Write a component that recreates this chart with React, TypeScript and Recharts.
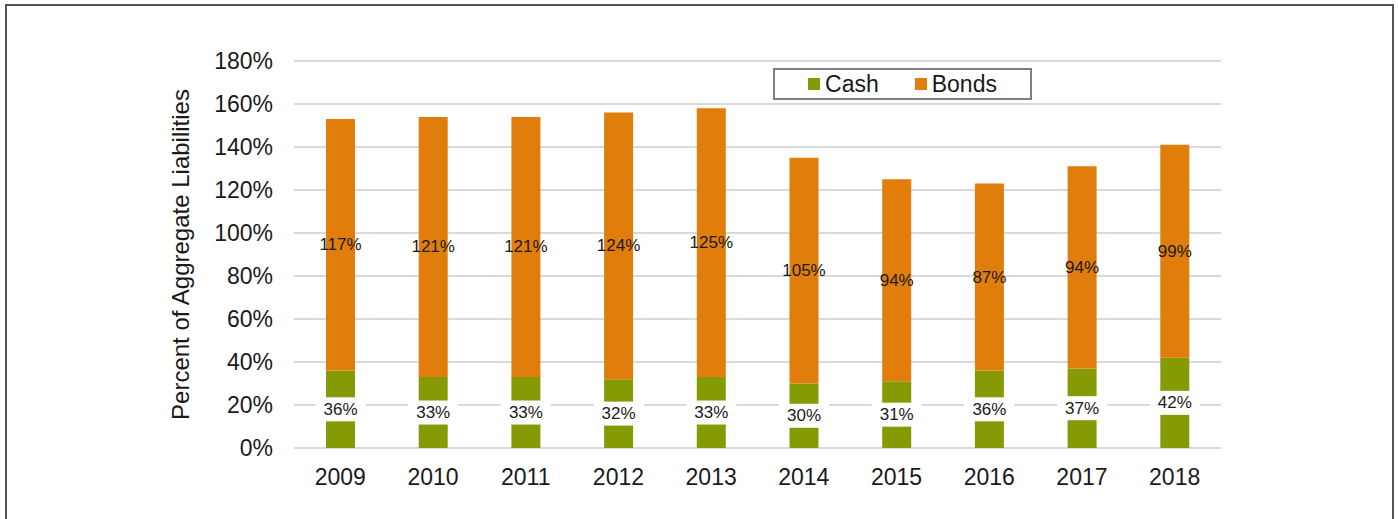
import React from 'react';
import { BarChart, Bar, XAxis, YAxis, CartesianGrid, Legend, LabelList } from 'recharts';

const years = ['2009', '2010', '2011', '2012', '2013', '2014', '2015', '2016', '2017', '2018'];
const cash = [36, 33, 33, 32, 33, 30, 31, 36, 37, 42];
const bonds = [117, 121, 121, 124, 125, 105, 94, 87, 94, 99];
const yTicks = [0, 20, 40, 60, 80, 100, 120, 140, 160, 180];

const CASH_COLOR = '#869a06';
const BONDS_COLOR = '#e07d0b';
const FONT = 'Arial, "Liberation Sans", Helvetica, sans-serif';

const data = years.map((year, i) => ({ year, cash: cash[i], bonds: bonds[i] }));

// value label in the middle of a segment; cash labels sit on a white box
const SegmentLabel = (props: any) => {
  const { x, y, width, height, value, boxed } = props;
  const cx = x + width / 2;
  const cy = y + height / 2;
  const text = `${value}%`;
  const w = 50;
  return (
    <g>
      {boxed && <rect x={cx - w / 2} y={cy - 12} width={w} height={24} fill="#ffffff" />}
      <text x={cx} y={cy} textAnchor="middle" dominantBaseline="central" fontSize={17} fontFamily={FONT} fill="#1a1a1a">
        {text}
      </text>
    </g>
  );
};

const LegendBox = () => (
  <div
    style={{
      width: 255,
      height: 28,
      border: '2px solid #7f7f7f',
      background: '#fff',
      display: 'flex',
      alignItems: 'center',
      justifyContent: 'center',
      fontFamily: FONT,
      fontSize: 23,
      color: '#1a1a1a',
    }}
  >
    <span style={{ width: 12, height: 12, background: CASH_COLOR, marginRight: 5 }} />
    <span style={{ marginRight: 36 }}>Cash</span>
    <span style={{ width: 12, height: 12, background: BONDS_COLOR, marginRight: 5 }} />
    <span>Bonds</span>
  </div>
);

export default function App() {
  return (
    <div style={{ position: 'absolute', left: 0, top: 0, width: 1398, height: 519, overflow: 'hidden', background: '#fff' }}>
      <div
        style={{
          position: 'absolute',
          left: 5,
          top: 4,
          width: 1385,
          height: 600,
          border: '2px solid #555',
        }}
      />
      <div style={{ position: 'absolute', left: 0, top: 0 }}>
        <BarChart width={1398} height={519} data={data} margin={{ top: 61, right: 177, bottom: 41, left: 0 }}>
          <CartesianGrid vertical={false} stroke="#d9d9d9" strokeWidth={2} />
          <XAxis
            dataKey="year"
            axisLine={false}
            tickLine={false}
            tickMargin={15}
            tick={{ fontSize: 23, fontFamily: FONT, fill: '#1a1a1a' }}
          />
          <YAxis
            width={294}
            domain={[0, 180]}
            ticks={yTicks}
            tickFormatter={(v: number) => `${v}%`}
            axisLine={false}
            tickLine={false}
            tickMargin={15}
            tick={{ fontSize: 23, fontFamily: FONT, fill: '#1a1a1a' }}
            label={{
              value: 'Percent of Aggregate Liabilities',
              angle: -90,
              position: 'center',
              dx: 33,
              style: { fontSize: 24, fontFamily: FONT, fill: '#1a1a1a' },
            }}
          />
          <Legend
            layout="horizontal"
            verticalAlign="middle"
            content={<LegendBox />}
            wrapperStyle={{ position: 'absolute', top: 68, left: 773, width: 259 }}
          />
          <Bar dataKey="cash" name="Cash" stackId="a" fill={CASH_COLOR} barSize={29} isAnimationActive={false}>
            <LabelList dataKey="cash" content={<SegmentLabel boxed />} />
          </Bar>
          <Bar dataKey="bonds" name="Bonds" stackId="a" fill={BONDS_COLOR} barSize={29} isAnimationActive={false}>
            <LabelList dataKey="bonds" content={<SegmentLabel boxed={false} />} />
          </Bar>
        </BarChart>
      </div>
    </div>
  );
}
